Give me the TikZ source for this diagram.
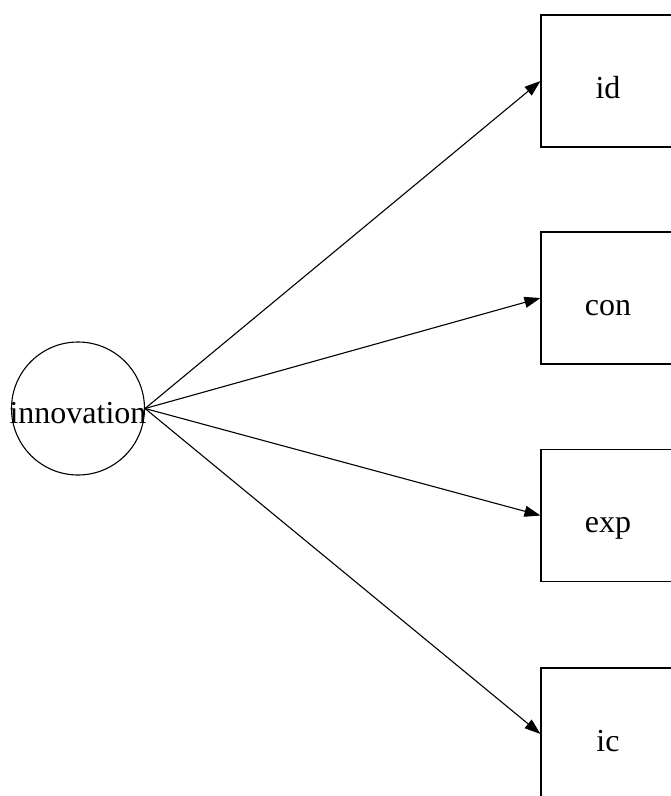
\documentclass[tikz,border=0pt]{standalone}
\usepackage{fontspec}
\setmainfont{Liberation Serif}
\usepackage{tikz}
\usetikzlibrary{arrows.meta}
\usepackage{tkz-euclide}

\begin{document}
\begin{tikzpicture}[x=1pt,y=-1pt,line width=1.1pt,
font=\fontsize{32}{38}\selectfont,
latent/.style={circle,draw,minimum size=133pt,inner sep=0pt,text height=30pt,text depth=0pt},
manifest/.style={rectangle,draw,minimum width=134pt,minimum height=132pt,inner sep=0pt,text height=34pt,text depth=0pt},
load/.style={-{Triangle[length=16pt,width=11pt]}}]
\useasboundingbox(0,0)rectangle(671,796);
\clip(0,0)rectangle(671,796);
\tkzDefPoints{78/408.5/I,608/81/A,608/298/B,608/515.5/C,608/734/D}
\node[latent](inn)at(I){\makebox[0pt]{innovation}};
\foreach \p/\n in {A/id,B/con,C/exp,D/ic}
\node[manifest](\n)at(\p){\n};
\foreach \n in {id,con,exp,ic}
\draw[load](inn.east)--(\n.west);
\end{tikzpicture}
\end{document}
